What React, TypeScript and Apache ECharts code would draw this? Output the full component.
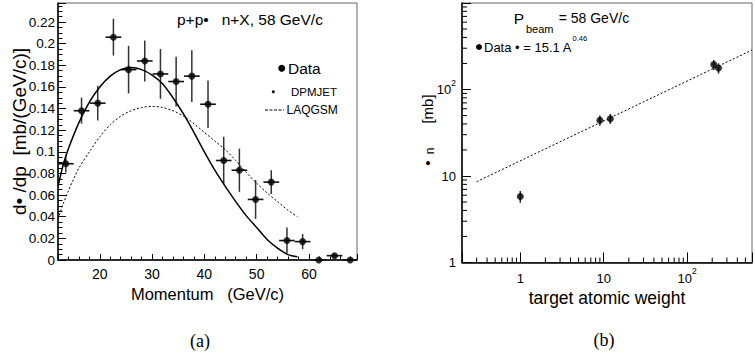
import React, { useEffect, useRef } from "react";
import * as echarts from "echarts";

const FONT = "'Liberation Sans', Arial, Helvetica, sans-serif";
const SERIF = "'Liberation Serif', 'Times New Roman', serif";

// ---------- Panel (a): p+p -> n+X, 58 GeV/c ----------
const momentum = [13.5, 16.5, 19.6, 22.6, 25.5, 28.6, 31.6, 34.6, 37.6, 40.7, 43.7, 46.7, 49.8, 52.8, 55.8, 58.8, 61.9, 64.9, 67.9];
const dsigmaDp = [0.089, 0.138, 0.145, 0.206, 0.176, 0.184, 0.172, 0.165, 0.17, 0.144, 0.092, 0.083, 0.056, 0.072, 0.018, 0.017, 0.0, 0.004, 0.0];
const dsigmaErr = [0.008, 0.012, 0.016, 0.017, 0.022, 0.019, 0.023, 0.023, 0.024, 0.022, 0.022, 0.02, 0.018, 0.011, 0.012, 0.007, 0.001, 0.002, 0.001];
const momentumHalfBin = [1.5, 1.5, 1.5, 1.5, 1.5, 1.5, 1.5, 1.5, 1.5, 1.5, 1.5, 1.5, 1.5, 1.5, 1.5, 1.5, 1.5, 1.5, 1.5];

const dpmjetP = [12, 13, 14, 16, 18, 20, 22, 24, 26, 28, 30, 32, 34, 36, 38, 40, 42, 44, 46, 48, 50, 52, 54, 56, 57.8];
const dpmjetV = [0.068, 0.088, 0.103, 0.127, 0.146, 0.16, 0.17, 0.176, 0.178, 0.176, 0.171, 0.163, 0.15, 0.135, 0.118, 0.1, 0.083, 0.068, 0.054, 0.041, 0.03, 0.019, 0.011, 0.005, 0.003];

const laqgsmP = [12, 13, 14, 15, 16, 18, 20, 22, 24, 26, 28, 30, 32, 34, 36, 38, 40, 42, 44, 46, 48, 50, 52, 54, 56, 57.8];
const laqgsmV = [0.038, 0.052, 0.064, 0.075, 0.085, 0.1, 0.114, 0.125, 0.133, 0.138, 0.141, 0.142, 0.141, 0.138, 0.133, 0.126, 0.118, 0.11, 0.102, 0.092, 0.081, 0.071, 0.062, 0.054, 0.046, 0.04];

const A_X_MIN = 12;
const A_X_MAX = 69.2;
const A_Y_MIN = 0;
const A_Y_MAX = 0.2376;
const A_Y_STEP = 0.02;

// ---------- Panel (b): sigma_n vs target atomic weight ----------
const targetA = [1, 9, 12, 209, 238];
const sigmaN = [5.8, 44, 46, 194, 177];
const sigmaNErr = [0.9, 6, 6, 26, 24];
const fitA = [0.3, 600];
const fitSigma = [8.6, 286];

const B_X_MIN = 0.2;
const B_X_MAX = 600;
const B_Y_MIN = 1;
const B_Y_MAX = 1000;
const bMinorXTicks = [0.3, 0.4, 0.5, 0.6, 0.7, 0.8, 0.9, 2, 3, 4, 5, 6, 7, 8, 9, 20, 30, 40, 50, 60, 70, 80, 90, 200, 300, 400, 500];
const bMinorYTicks = [2, 3, 4, 5, 6, 7, 8, 9, 20, 30, 40, 50, 60, 70, 80, 90, 200, 300, 400, 500, 600, 700, 800, 900];

const near = (a: number, b: number) => Math.abs(a - b) < 1e-6 * Math.max(1, Math.abs(b));

function txt(x: number, y: number, text: string, size: number, family = FONT, align = "left", valign = "middle") {
  return {
    type: "text",
    x,
    y,
    silent: true,
    style: {
      text,
      fontSize: size,
      fontFamily: family,
      fill: "#000",
      align,
      verticalAlign: valign,
      textAlign: align,
      textVerticalAlign: valign,
    },
  };
}

function buildOption() {
  const axisLine = { show: true, onZero: false, lineStyle: { color: "#000", width: 1.5 } };
  const tickStyle = { color: "#000", width: 1 };

  const richLabel = {
    b: { fontSize: 13, fontFamily: FONT, color: "#000", padding: [5, 0, 5, 0] },
    s: { fontSize: 8.5, fontFamily: FONT, color: "#000", verticalAlign: "top" },
  };
  const logFmt = (v: number) => {
    if (near(v, 1)) return "{b|1}";
    if (near(v, 10)) return "{b|10}";
    if (near(v, 100)) return "{b|10}{s|2}";
    return "";
  };

  return {
    animation: false,
    backgroundColor: "#fff",
    grid: [
      { left: 58, top: 3, width: 299, height: 257, show: true, borderColor: "#666", borderWidth: 1, backgroundColor: "transparent" },
      { left: 462, top: 3, width: 300, height: 259.5, show: true, borderColor: "#666", borderWidth: 1, backgroundColor: "transparent" },
    ],
    xAxis: [
      {
        type: "value",
        gridIndex: 0,
        min: A_X_MIN,
        max: A_X_MAX,
        splitNumber: 5,
        axisLine,
        axisTick: { show: true, inside: true, length: 6, lineStyle: tickStyle },
        minorTick: { show: true, splitNumber: 5, length: 3.5, lineStyle: tickStyle },
        splitLine: { show: false },
        minorSplitLine: { show: false },
        axisLabel: {
          margin: 7,
          fontSize: 14,
          fontFamily: FONT,
          color: "#000",
          showMinLabel: false,
          showMaxLabel: false,
          formatter: (v: number) => (Math.abs(v % 10) < 1e-9 ? String(v) : ""),
        },
        name: "Momentum   (GeV/c)",
        nameLocation: "middle",
        nameGap: 25,
        nameTextStyle: { fontSize: 16.5, fontFamily: FONT, color: "#000" },
      },
      {
        type: "log",
        logBase: 10,
        gridIndex: 1,
        min: B_X_MIN,
        max: B_X_MAX,
        axisLine,
        axisTick: { show: true, inside: true, length: 10, lineStyle: tickStyle },
        minorTick: { show: false },
        splitLine: { show: false },
        axisLabel: { margin: 4, color: "#000", formatter: logFmt, rich: richLabel },
        name: "target atomic weight",
        nameLocation: "middle",
        nameGap: 21,
        nameTextStyle: { fontSize: 17.5, fontFamily: FONT, color: "#000" },
      },
    ],
    yAxis: [
      {
        type: "value",
        gridIndex: 0,
        min: A_Y_MIN,
        max: A_Y_MAX,
        interval: A_Y_STEP,
        axisLine,
        axisTick: { show: true, inside: true, length: 8, lineStyle: tickStyle },
        minorTick: { show: true, splitNumber: 4, length: 4.5, lineStyle: tickStyle },
        splitLine: { show: false },
        minorSplitLine: { show: false },
        axisLabel: {
          margin: 3,
          fontSize: 13.5,
          fontFamily: FONT,
          color: "#000",
          showMaxLabel: false,
          formatter: (v: number) => (v > 0.225 ? "" : String(Number(v.toFixed(3)))),
        },
        name: "d\u2022 /dp  [mb/(GeV/c)]",
        nameLocation: "middle",
        nameRotate: 90,
        nameGap: 29,
        nameMoveOverlap: false,
        nameTextStyle: { fontSize: 19, fontFamily: FONT, color: "#000" },
      },
      {
        type: "log",
        logBase: 10,
        gridIndex: 1,
        min: B_Y_MIN,
        max: B_Y_MAX,
        axisLine,
        axisTick: { show: true, inside: true, length: 9, lineStyle: tickStyle },
        minorTick: { show: false },
        splitLine: { show: false },
        axisLabel: { margin: 6, color: "#000", formatter: logFmt, rich: richLabel },
      },
    ],
    series: [
      // panel (a) error bars
      {
        type: "custom",
        xAxisIndex: 0,
        yAxisIndex: 0,
        silent: true,
        data: momentum.map((p, i) => [p, dsigmaDp[i], dsigmaErr[i], momentumHalfBin[i]]),
        renderItem: (_params: any, api: any) => {
          const x = api.value(0);
          const y = api.value(1);
          const e = api.value(2);
          const h = api.value(3);
          const l = api.coord([x - h, y]);
          const r = api.coord([Math.min(x + h, A_X_MAX), y]);
          const t = api.coord([x, y + e]);
          const b = api.coord([x, Math.max(y - e, A_Y_MIN)]);
          return {
            type: "group",
            children: [
              { type: "line", shape: { x1: l[0], y1: l[1], x2: r[0], y2: r[1] }, style: { stroke: "#111", lineWidth: 1.6 } },
              { type: "line", shape: { x1: t[0], y1: t[1], x2: b[0], y2: b[1] }, style: { stroke: "#333", lineWidth: 1.5 } },
            ],
          };
        },
      },
      {
        type: "scatter",
        xAxisIndex: 0,
        yAxisIndex: 0,
        silent: true,
        symbol: "circle",
        symbolSize: 7,
        itemStyle: { color: "#000" },
        data: momentum.map((p, i) => [p, dsigmaDp[i]]),
      },
      {
        type: "line",
        name: "DPMJET",
        xAxisIndex: 0,
        yAxisIndex: 0,
        silent: true,
        showSymbol: false,
        smooth: 0.3,
        lineStyle: { color: "#000", width: 1.5 },
        data: dpmjetP.map((p, i) => [p, dpmjetV[i]]),
      },
      {
        type: "line",
        name: "LAQGSM",
        xAxisIndex: 0,
        yAxisIndex: 0,
        silent: true,
        showSymbol: false,
        smooth: 0.3,
        lineStyle: { color: "#000", width: 1, type: [2, 2] },
        data: laqgsmP.map((p, i) => [p, laqgsmV[i]]),
      },
      // panel (b)
      {
        type: "line",
        name: "fit",
        xAxisIndex: 1,
        yAxisIndex: 1,
        silent: true,
        showSymbol: false,
        lineStyle: { color: "#000", width: 1, type: [2, 2] },
        data: fitA.map((a, i) => [a, fitSigma[i]]),
      },
      {
        type: "custom",
        xAxisIndex: 1,
        yAxisIndex: 1,
        silent: true,
        data: targetA.map((a, i) => [a, sigmaN[i], sigmaNErr[i]]),
        renderItem: (_params: any, api: any) => {
          const x = api.value(0);
          const y = api.value(1);
          const e = api.value(2);
          const t = api.coord([x, y + e]);
          const b = api.coord([x, y - e]);
          return { type: "line", shape: { x1: t[0], y1: t[1], x2: b[0], y2: b[1] }, style: { stroke: "#222", lineWidth: 1.5 } };
        },
      },
      {
        type: "scatter",
        xAxisIndex: 1,
        yAxisIndex: 1,
        silent: true,
        symbol: "circle",
        symbolSize: 7,
        itemStyle: { color: "#000" },
        data: targetA.map((a, i) => [a, sigmaN[i]]),
      },
      // panel (b) log minor ticks
      {
        type: "custom",
        xAxisIndex: 1,
        yAxisIndex: 1,
        silent: true,
        data: bMinorXTicks.map((v) => [v, B_Y_MIN]),
        renderItem: (_params: any, api: any) => {
          const p = api.coord([api.value(0), api.value(1)]);
          return { type: "line", shape: { x1: p[0], y1: p[1], x2: p[0], y2: p[1] - 5 }, style: { stroke: "#000", lineWidth: 1 } };
        },
      },
      {
        type: "custom",
        xAxisIndex: 1,
        yAxisIndex: 1,
        silent: true,
        data: bMinorYTicks.map((v) => [B_X_MIN, v]),
        renderItem: (_params: any, api: any) => {
          const p = api.coord([api.value(0), api.value(1)]);
          return { type: "line", shape: { x1: p[0], y1: p[1], x2: p[0] + 5, y2: p[1] }, style: { stroke: "#000", lineWidth: 1 } };
        },
      },
    ],
    graphic: [
      // panel (a) title and legend
      txt(177, 19, "p+p\u2022   n+X, 58 GeV/c", 15.5),
      { type: "circle", silent: true, shape: { cx: 281.7, cy: 68.3, r: 3.5 }, style: { fill: "#000" } },
      txt(288, 68.5, "Data", 15.5),
      { type: "circle", silent: true, shape: { cx: 273.3, cy: 91.7, r: 1.5 }, style: { fill: "#000" } },
      txt(291, 92, "DPMJET", 11.5),
      { type: "line", silent: true, shape: { x1: 265, y1: 110, x2: 284, y2: 110 }, style: { stroke: "#000", lineWidth: 1, lineDash: [3, 1.5] } },
      txt(286.5, 110, "LAQGSM", 12),
      // panel (b) annotations
      txt(513.7, 18, "P", 15.5),
      txt(526, 29, "beam", 11),
      txt(558.7, 18, "= 58 GeV/c", 14),
      { type: "circle", silent: true, shape: { cx: 479, cy: 47, r: 3 }, style: { fill: "#000" } },
      txt(484, 47.5, "Data \u2022 = 15.1 A", 13),
      txt(572.5, 38, "0.46", 7.5),
      {
        type: "group",
        x: 427,
        y: 133,
        rotation: Math.PI / 2,
        silent: true,
        children: [
          txt(-30, 0, "\u2022", 15, FONT, "center"),
          txt(-18, 3, "n", 12, FONT, "center"),
          txt(24, 0, "[mb]", 15, FONT, "center"),
        ],
      },
      // panel labels
      txt(200, 341, "(a)", 18, SERIF, "center"),
      txt(604, 340, "(b)", 18, SERIF, "center"),
    ],
  };
}

export default function App() {
  const ref = useRef<HTMLDivElement>(null);
  useEffect(() => {
    document.body.style.margin = "0";
    if (!ref.current) return;
    const chart = echarts.init(ref.current, null, { renderer: "svg" });
    chart.setOption(buildOption() as any);
    return () => chart.dispose();
  }, []);
  return <div ref={ref} style={{ width: 755, height: 358, background: "#fff", overflow: "hidden" }} />;
}
